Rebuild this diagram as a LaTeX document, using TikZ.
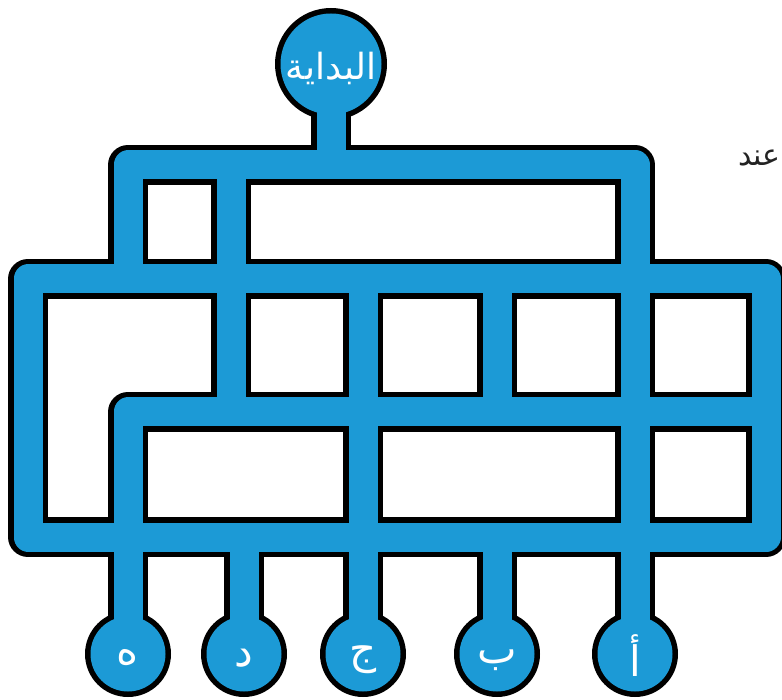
\documentclass[tikz,border=0pt]{standalone}
\usepackage{fontspec}
\newfontfamily\arabicfont[Script=Arabic]{DejaVu Sans}
\TeXXeTstate=1
\definecolor{mazeblue}{RGB}{28,154,214}
\definecolor{inkgray}{RGB}{35,35,35}
\begin{document}
\begin{tikzpicture}[x=1pt,y=-1pt,
  wall/.style={draw=black,line width=40pt,line join=round},
  lane/.style={draw=mazeblue,line width=29pt,line join=round},
  ring/.style={fill=black},
  bigtext/.style={inner sep=0pt,text=white,font=\arabicfont\fontsize{36}{40}\selectfont},
  smalltext/.style={inner sep=0pt,text=white,font=\arabicfont\fontsize{42}{46}\selectfont},
  note/.style={text=inkgray,font=\arabicfont\fontsize{30}{34}\selectfont,inner sep=0pt}]
\clip (0,0) rectangle (782,700);
\fill[white] (0,0) rectangle (782,700);
% junction coordinates
\coordinate (S) at (331,64);
\coordinate (E) at (128,654);
\coordinate (D) at (244,654);
\coordinate (J) at (363,654);
\coordinate (B) at (497,654);
\coordinate (A) at (635,654);
\coordinate (h1l) at (128,165);
\coordinate (h1s) at (331,165);
\coordinate (h1m) at (231,165);
\coordinate (h1r) at (635,165);
\coordinate (h2l) at (28,279);
\coordinate (h2a) at (128,279);
\coordinate (h2c) at (363,279);
\coordinate (h2b) at (497,279);
\coordinate (h2r) at (766,279);
\coordinate (h3l) at (128,412);
\coordinate (h3d) at (231,412);
\coordinate (h3b) at (497,412);
\coordinate (h3r) at (766,412);
\coordinate (h4l) at (28,537);
\coordinate (h4d) at (244,537);
\coordinate (h4b) at (497,537);
\coordinate (h4r) at (766,537);
% black rings, then walls, then lanes
\foreach \c in {E,D,J,B,A} \fill[ring] (\c) circle (43pt);
\fill[ring] (S) circle (56pt);
\foreach \L in {wall,lane}{
  \path[\L] (h2a) -- (h1l) -- (h1r) -- (A);
  \path[\L] (h2l) -- (h2r) -- (h4r) -- (h4l) -- cycle;
  \path[\L] (h3r) -- (h3l) -- (E);
  \path[\L] (h1m) -- (h3d);
  \path[\L] (h2c) -- (J);
  \path[\L] (h2b) -- (h3b);
  \path[\L] (h4b) -- (B);
  \path[\L] (h4d) -- (D);
  \path[\L] (h1s) -- (S);
}
% blue discs
\foreach \c in {E,D,J,B,A} \fill[mazeblue] (\c) circle (37.5pt);
\fill[mazeblue] (S) circle (50.5pt);
% labels
\node[bigtext] (start) at ([yshift=-4pt]S) {\beginR البداية\endR};
\node[smalltext] (he) at ([yshift=-4pt]E) {\beginR ه\endR};
\node[smalltext] (dal) at ([yshift=-4pt]D) {\beginR د\endR};
\node[smalltext] (jim) at ([yshift=-6pt]J) {\beginR ج\endR};
\node[smalltext] (ba) at ([yshift=-6pt]B) {\beginR ب\endR};
\node[smalltext] (alif) at ([yshift=-2pt]A) {\beginR أ\endR};
\node[note,anchor=east] (inda) at (781,158) {\beginR عند\endR};
\end{tikzpicture}
\end{document}
